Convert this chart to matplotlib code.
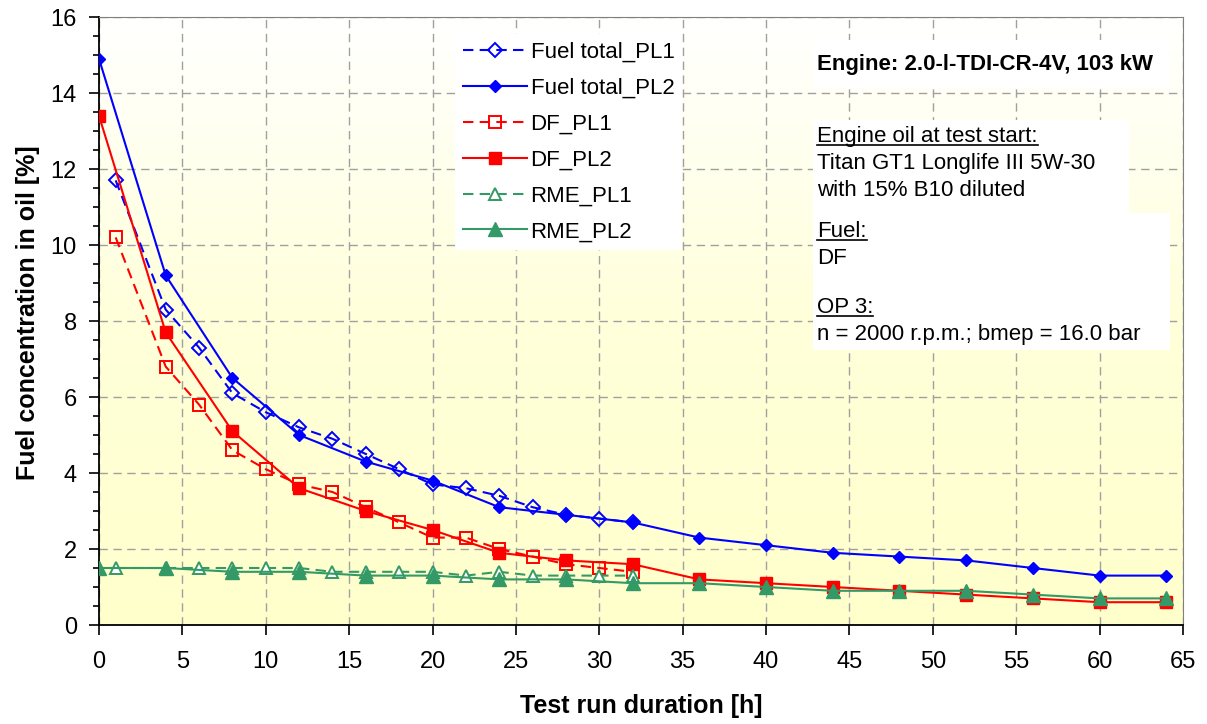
import numpy as np
import matplotlib
matplotlib.use("Agg")
from matplotlib import pyplot as plt
from matplotlib.colors import LinearSegmentedColormap
from matplotlib.lines import Line2D
from matplotlib.patches import Rectangle
from matplotlib.ticker import MultipleLocator

plt.rcParams['font.family'] = ['Liberation Sans', 'DejaVu Sans']

# Test hours for the two test phases
hours_pl1 = [1, 4, 6, 8, 10, 12, 14, 16, 18, 20, 22, 24, 26, 28, 30, 32]
hours_pl2 = [0, 4, 8, 12, 16, 20, 24, 28, 32, 36, 40, 44, 48, 52, 56, 60, 64]

# Fuel concentration in oil [%]
fuel_total_pl1 = [11.7, 8.3, 7.3, 6.1, 5.6, 5.2, 4.9, 4.5, 4.1, 3.7, 3.6, 3.4, 3.1, 2.9, 2.8, 2.7]
fuel_total_pl2 = [14.9, 9.2, 6.5, 5.0, 4.3, 3.8, 3.1, 2.9, 2.7, 2.3, 2.1, 1.9, 1.8, 1.7, 1.5, 1.3, 1.3]
df_pl1 = [10.2, 6.8, 5.8, 4.6, 4.1, 3.7, 3.5, 3.1, 2.7, 2.3, 2.3, 2.0, 1.8, 1.6, 1.5, 1.4]
df_pl2 = [13.4, 7.7, 5.1, 3.6, 3.0, 2.5, 1.9, 1.7, 1.6, 1.2, 1.1, 1.0, 0.9, 0.8, 0.7, 0.6, 0.6]
rme_pl1 = [1.5, 1.5, 1.5, 1.5, 1.5, 1.5, 1.4, 1.4, 1.4, 1.4, 1.3, 1.4, 1.3, 1.3, 1.3, 1.3]
rme_pl2 = [1.5, 1.5, 1.4, 1.4, 1.3, 1.3, 1.2, 1.2, 1.1, 1.1, 1.0, 0.9, 0.9, 0.9, 0.8, 0.7, 0.7]

x_ticks = np.arange(0, 66, 5)
y_ticks = np.arange(0, 17, 2)

W, H = 1207, 724
fig = plt.figure(figsize=(W / 100, H / 100), dpi=100, facecolor='white')


def fx(px):
    return px / W


def fy(py):
    return 1 - py / H


ax = fig.add_axes([fx(99), fy(625), fx(1183) - fx(99), fy(17) - fy(625)])

# plot area gradient, white at top to pale yellow at bottom
grad = LinearSegmentedColormap.from_list('bg', [(0, '#FFFFCC'), (0.5, '#FFFFDA'), (1, '#FFFFFF')])
ax.imshow(np.linspace(0, 1, 256).reshape(-1, 1), cmap=grad, origin='lower',
          extent=[0, 65, 0, 16], aspect='auto', zorder=0)

BLUE, RED, GREEN = '#0000FF', '#FF0000', '#339966'
dash = [5, 3]
lw = 1.5

ax.plot(hours_pl1, fuel_total_pl1, color=BLUE, lw=lw, dashes=dash, marker='D', ms=7,
        mfc='none', mec=BLUE, mew=1.4, label='Fuel total_PL1', zorder=3)
ax.plot(hours_pl2, fuel_total_pl2, color=BLUE, lw=lw, marker='D', ms=6,
        mfc=BLUE, mec=BLUE, label='Fuel total_PL2', zorder=3)
ax.plot(hours_pl1, df_pl1, color=RED, lw=lw, dashes=dash, marker='s', ms=8,
        mfc='none', mec=RED, mew=1.4, label='DF_PL1', zorder=3)
ax.plot(hours_pl2, df_pl2, color=RED, lw=lw, marker='s', ms=8.5,
        mfc=RED, mec=RED, label='DF_PL2', zorder=3)
ax.plot(hours_pl1, rme_pl1, color=GREEN, lw=lw, dashes=dash, marker='^', ms=9,
        mfc='white', mec=GREEN, mew=1.4, label='RME_PL1', zorder=3)
ax.plot(hours_pl2, rme_pl2, color=GREEN, lw=lw, marker='^', ms=9.5,
        mfc=GREEN, mec=GREEN, label='RME_PL2', zorder=3)

ax.set_xlim(0, 65)
ax.set_ylim(0, 16)
ax.set_xticks(x_ticks)
ax.set_yticks(y_ticks)
ax.yaxis.set_minor_locator(MultipleLocator(0.5))
ax.grid(True, which='major', color='#A0A0A0', lw=1, dashes=[6, 4])
ax.tick_params(axis='both', which='major', direction='out', length=7, width=1.2,
               labelsize=17, color='black')
ax.tick_params(axis='y', which='minor', direction='out', length=4, width=1.2)
ax.tick_params(axis='y', which='major', pad=9)
ax.tick_params(axis='x', which='major', pad=12)
ax.spines['left'].set_color('black')
ax.spines['bottom'].set_color('black')
ax.spines['left'].set_linewidth(1.3)
ax.spines['bottom'].set_linewidth(1.3)
ax.spines['top'].set_color('#808080')
ax.spines['right'].set_color('#808080')

fig.text(fx(28), fy(313), 'Fuel concentration in oil [%]', rotation=90,
         ha='center', va='center', fontsize=18, fontweight='bold')
fig.text(fx(641), fy(706), 'Test run duration [h]', ha='center', va='center',
         fontsize=18, fontweight='bold')

ax.legend(loc='upper left', bbox_to_anchor=(fx(455), fy(34)), bbox_transform=fig.transFigure,
          frameon=True, facecolor='white', edgecolor='none', framealpha=1, fancybox=False,
          fontsize=16, handlelength=2.9, handletextpad=0.15, labelspacing=0.67,
          borderpad=0.35, borderaxespad=0, numpoints=1)

# white boxes behind the notes
for x0, y0, x1, y1 in [(813, 40, 1170, 88), (813, 120, 1129, 213), (813, 213, 1170, 350)]:
    fig.add_artist(Rectangle((fx(x0), fy(y1)), fx(x1) - fx(x0), fy(y0) - fy(y1),
                             transform=fig.transFigure, facecolor='white',
                             edgecolor='none', zorder=1))

notes = [
    ('Engine: 2.0-l-TDI-CR-4V, 103 kW', 70, True, False),
    ('Engine oil at test start:', 142, False, True),
    ('Titan GT1 Longlife III 5W-30', 169, False, False),
    ('with 15% B10 diluted', 196, False, False),
    ('Fuel:', 237, False, True),
    ('DF', 264, False, False),
    ('OP 3:', 313, False, True),
    ('n = 2000 r.p.m.; bmep = 16.0 bar', 340, False, False),
]
underlined = []
for txt, base, bold, ul in notes:
    t = fig.text(fx(817), fy(base), txt, ha='left', va='baseline', fontsize=16,
                 fontweight='bold' if bold else 'normal', zorder=3)
    if ul:
        underlined.append((t, base))

fig.canvas.draw()
renderer = fig.canvas.get_renderer()
for t, base in underlined:
    bb = t.get_window_extent(renderer)
    fig.add_artist(Line2D([bb.x0 / W, bb.x1 / W], [fy(base + 3), fy(base + 3)],
                          transform=fig.transFigure, color='black', lw=1.2, zorder=3))

fig.savefig('out.png', dpi=100, facecolor='white')
